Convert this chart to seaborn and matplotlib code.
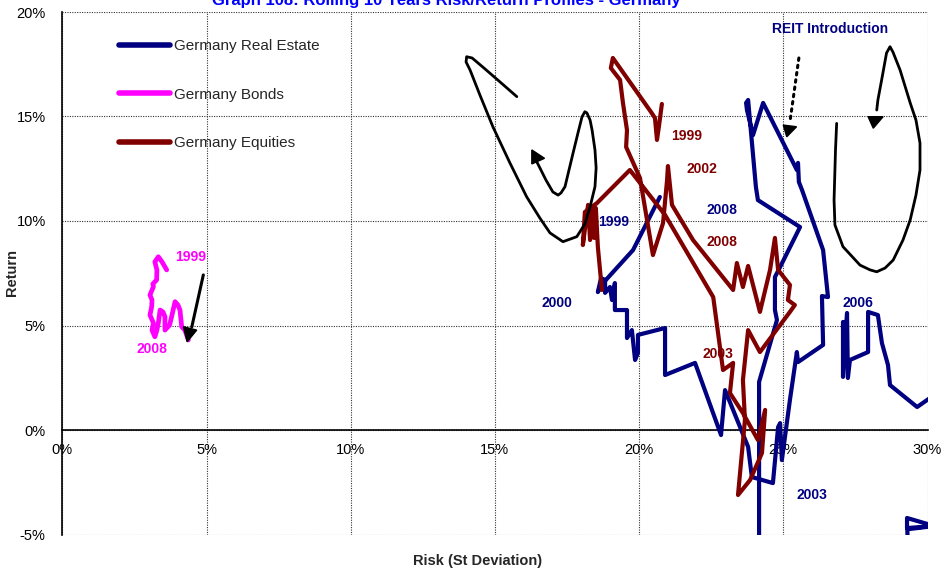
import numpy as np
import pandas as pd
import matplotlib
matplotlib.use("Agg")
import matplotlib.pyplot as plt
import seaborn as sns
from matplotlib.lines import Line2D

sns.set_theme(style="white")
plt.rcParams["font.family"] = ["Liberation Sans", "DejaVu Sans"]

# ---------------- data (risk %, return %) ----------------
series_names = ["Germany Real Estate", "Germany Bonds", "Germany Equities"]
series_colors = ["#000080", "#FF00FF", "#800000"]

re_risk = [27.07, 27.07, 27.14, 27.21, 27.24, 27.31, 27.94, 27.94, 28.28, 28.42, 28.63, 28.70,
           29.64, 31.5, 30.5, 29.29, 29.29, 30.2, 29.3, 29.35, 24.16, 24.16, 24.78, 24.71,
           24.71, 24.89, 25.58, 24.12, 24.05, 23.78, 23.71, 23.74, 23.95, 24.30, 25.47, 25.51,
           25.54, 25.65, 26.38, 26.55, 26.34, 26.38, 25.51, 25.47, 25.23, 24.95, 24.89, 24.82,
           24.64, 23.91, 23.78, 22.98, 22.84, 21.94, 20.90, 20.90, 19.96, 19.96, 19.86, 19.75,
           19.58, 19.58, 19.16, 19.16, 19.06, 18.99, 18.82, 18.82, 18.68, 18.57, 18.75, 19.79,
           20.72]
re_ret = [5.17, 2.54, 4.31, 5.60, 2.49, 3.35, 3.73, 5.65, 5.50, 4.16, 3.11, 2.15,
          1.10, 2.9, -4.7, -4.21, -4.69, -4.6, -4.75, -7.0, -7.0, 2.30, 5.26, 5.74,
          7.32, 7.80, 9.71, 11.00, 11.63, 15.79, 15.65, 15.31, 14.11, 15.65, 12.44, 12.78,
          11.87, 11.48, 8.61, 6.36, 6.41, 4.07, 3.25, 3.73, 1.44, -1.44, 0.33, 0.14,
          -2.54, -2.25, -0.81, 1.91, -0.24, 3.21, 2.63, 4.88, 4.55, 3.68, 3.35, 4.78,
          4.40, 5.74, 5.74, 7.03, 6.22, 6.84, 6.56, 7.18, 7.27, 6.60, 7.03, 8.61,
          11.15]

bd_risk = [3.62, 3.46, 3.33, 3.21, 3.28, 3.27, 3.14, 3.16, 3.04, 3.11, 3.10, 3.04, 3.16,
           3.11, 3.21, 3.28, 3.33, 3.39, 3.49, 3.56, 3.56, 3.72, 3.79, 3.91, 4.01, 4.08,
           4.14, 4.25, 4.37]
bd_ret = [7.66, 8.04, 8.29, 8.05, 7.66, 7.18, 6.99, 6.86, 6.46, 6.22, 5.90, 5.50, 5.12,
          4.78, 4.46, 4.78, 5.12, 5.74, 5.65, 5.42, 4.78, 5.02, 5.42, 6.14, 5.98, 5.74,
          4.94, 4.78, 4.31]

eq_risk = [20.79, 20.69, 20.62, 20.55, 20.41, 19.09, 19.02, 19.34, 19.44, 19.58, 19.55, 20.03,
           20.48, 20.83, 20.97, 21.00, 21.14, 21.87, 23.26, 23.39, 23.60, 23.78, 24.19, 24.54,
           24.71, 24.82, 25.23, 25.16, 25.40, 25.23, 24.19, 23.78, 23.60, 23.67, 23.43, 23.85,
           24.26, 24.37, 24.12, 23.60, 23.15, 23.26, 22.91, 22.57, 20.90, 19.68, 18.54, 18.12,
           18.05, 18.23, 18.30, 18.37, 18.44, 18.50, 18.57, 18.71]
eq_ret = [15.60, 14.55, 13.88, 14.93, 15.22, 17.80, 17.32, 16.75, 15.65, 14.35, 13.54, 12.06,
          8.37, 9.90, 11.96, 12.63, 10.77, 9.09, 6.70, 7.99, 6.84, 7.85, 5.65, 7.66,
          9.19, 7.66, 6.94, 6.22, 5.98, 5.65, 3.73, 4.78, 2.39, 0.48, -3.11, -2.39,
          -1.10, 0.96, -0.48, 0.81, 1.77, 3.21, 2.87, 6.36, 10.29, 12.44, 10.86, 10.43,
          8.85, 10.77, 9.09, 10.53, 9.19, 10.62, 8.76, 6.70]

# hand-drawn annotation curves (risk %, return %)
loop1_x = [15.76, 15.18, 14.62, 14.21, 14.02, 14.00, 14.14, 14.48, 14.93, 15.52, 16.10, 16.56,
           16.91, 17.36, 17.84, 18.12, 18.30, 18.47, 18.51, 18.47, 18.37, 18.30, 18.19, 18.12,
           18.02, 17.88, 17.71, 17.43, 17.29, 17.19, 17.01, 16.77, 16.56, 16.42]
loop1_y = [15.95, 16.65, 17.32, 17.80, 17.86, 17.61, 17.22, 16.03, 14.51, 12.78, 11.16, 10.14,
           9.43, 9.01, 9.25, 9.86, 10.68, 11.64, 12.54, 13.40, 14.35, 14.83, 15.17, 15.23,
           14.98, 14.21, 13.25, 11.64, 11.34, 11.24, 11.39, 11.96, 12.54, 12.92]
head1_x = [16.28, 16.28, 16.72]
head1_y = [13.40, 12.73, 13.00]

loop2_x = [26.85, 26.81, 26.79, 26.76, 26.79, 27.07, 27.66, 28.01, 28.24, 28.53, 28.81, 29.15,
           29.40, 29.60, 29.74, 29.74, 29.60, 29.40, 29.05, 28.80, 28.70, 28.58, 28.41, 28.28,
           28.24]
loop2_y = [14.67, 13.40, 12.44, 11.00, 9.81, 8.77, 7.89, 7.66, 7.57, 7.75, 8.13, 9.09,
           10.05, 11.24, 12.44, 13.73, 14.83, 15.65, 17.22, 18.09, 18.34, 18.04, 16.75, 15.79,
           15.31]
head2_x = [28.12, 27.94, 28.46]
head2_y = [14.44, 14.99, 14.99]

reit_arrow_x = [25.54, 25.23]
reit_arrow_y = [17.80, 14.74]
reit_head_x = [25.12, 25.00, 25.46]
reit_head_y = [14.03, 14.59, 14.51]

bond_arrow_x = [4.89, 4.49]
bond_arrow_y = [7.42, 4.93]
bond_head_x = [4.33, 4.20, 4.66]
bond_head_y = [4.22, 4.94, 4.78]

# year labels: (text, risk, return, colour)
labels_text = ["1999", "2008", "1999", "2002", "2008", "2003",
               "1999", "2000", "2008", "2006", "2003", "REIT Introduction"]
labels_x = [4.46, 3.11, 21.66, 22.18, 22.87, 22.73, 19.13, 17.15, 22.87, 27.59, 26.0, 26.62]
labels_y = [8.28, 3.88, 14.07, 12.49, 9.00, 3.64, 9.95, 6.08, 10.53, 6.08, -3.11, 19.19]
labels_c = ["#FF00FF", "#FF00FF", "#800000", "#800000", "#800000", "#800000",
            "#000080", "#000080", "#000080", "#000080", "#000080", "#000080"]

x_ticks = [0, 5, 10, 15, 20, 25, 30]
y_ticks = [-5, 0, 5, 10, 15, 20]

# ---------------- figure ----------------
fig = plt.figure(figsize=(9.44, 5.72), dpi=100)
ax = fig.add_axes([62.3 / 944, 1 - 534.5 / 572, 865.2 / 944, 522.5 / 572])

df = pd.concat([
    pd.DataFrame({"risk": re_risk, "ret": re_ret, "series": series_names[0]}),
    pd.DataFrame({"risk": bd_risk, "ret": bd_ret, "series": series_names[1]}),
    pd.DataFrame({"risk": eq_risk, "ret": eq_ret, "series": series_names[2]}),
], ignore_index=True)

pal = dict(zip(series_names, series_colors))
sns.lineplot(data=df, x="risk", y="ret", hue="series", units="series", estimator=None,
             sort=False, palette=pal, linewidth=3.0, legend=False, ax=ax, zorder=3)
for ln in ax.get_lines():
    ln.set_solid_joinstyle("round")
    ln.set_solid_capstyle("round")
    if ln.get_color().lower() in ("#ff00ff", "magenta"):
        ln.set_linewidth(3.4)

# annotation curves
ax.plot(loop1_x, loop1_y, color="black", lw=2.0, zorder=4, solid_joinstyle="round")
ax.fill(head1_x, head1_y, color="black", zorder=4)
ax.plot(loop2_x, loop2_y, color="black", lw=2.0, zorder=4, solid_joinstyle="round")
ax.fill(head2_x, head2_y, color="black", zorder=4)
ax.plot(reit_arrow_x, reit_arrow_y, color="black", lw=2.2, linestyle=(0, (0.8, 1.6)),
        dash_capstyle="round", zorder=4)
ax.fill(reit_head_x, reit_head_y, color="black", zorder=4)
ax.plot(bond_arrow_x, bond_arrow_y, color="black", lw=2.2, zorder=4)
ax.fill(bond_head_x, bond_head_y, color="black", zorder=4)

for t, x, y, c in zip(labels_text, labels_x, labels_y, labels_c):
    ax.text(x, y, t, color=c, fontsize=10, fontweight="bold", ha="center", va="center",
            zorder=5)

# axes styling
ax.set_xlim(0, 30)
ax.set_ylim(-5, 20)
ax.set_xticks(x_ticks)
ax.set_yticks(y_ticks)
ax.set_xticklabels([f"{v}%" for v in x_ticks])
ax.set_yticklabels([f"{v}%" for v in y_ticks])
ax.grid(True, color="#333333", linestyle=(0, (1, 1.2)), linewidth=0.8)
ax.set_axisbelow(True)
for s in ["top", "right"]:
    ax.spines[s].set_visible(False)
ax.spines["bottom"].set_position(("data", 0))
ax.spines["bottom"].set_color("black")
ax.spines["bottom"].set_linewidth(1.2)
ax.spines["left"].set_color("black")
ax.spines["left"].set_linewidth(1.2)
ax.spines["bottom"].set_zorder(2.2)
ax.tick_params(axis="both", labelsize=10.5, colors="black", length=4, width=1, direction="out")
ax.tick_params(axis="y", pad=8)
ax.tick_params(axis="x", pad=5)
ax.set_xlabel("")
ax.set_ylabel("")
fig.text(478 / 944, 1 - 561 / 572, "Risk (St Deviation)", fontsize=10.5, fontweight="bold",
         ha="center", va="center")
fig.text(12 / 944, 1 - 272 / 572, "Return", fontsize=10.5, fontweight="bold", rotation=90,
         ha="center", va="center")
fig.text(446 / 944, 1 - 5 / 572, "Graph 108: Rolling 10 Years Risk/Return Profiles - Germany",
         fontsize=12, fontweight="bold", color="#0000FF", ha="center", va="baseline")

handles = [Line2D([0], [0], color=c, lw=4, solid_capstyle="round") for c in series_colors]
ax.legend(handles, series_names, loc="upper left", bbox_to_anchor=(0.066, 0.9475),
          frameon=False, fontsize=11, handlelength=3.3, handletextpad=0.3,
          labelspacing=2.25, borderaxespad=0, borderpad=0)

fig.savefig("out.png", dpi=100)
